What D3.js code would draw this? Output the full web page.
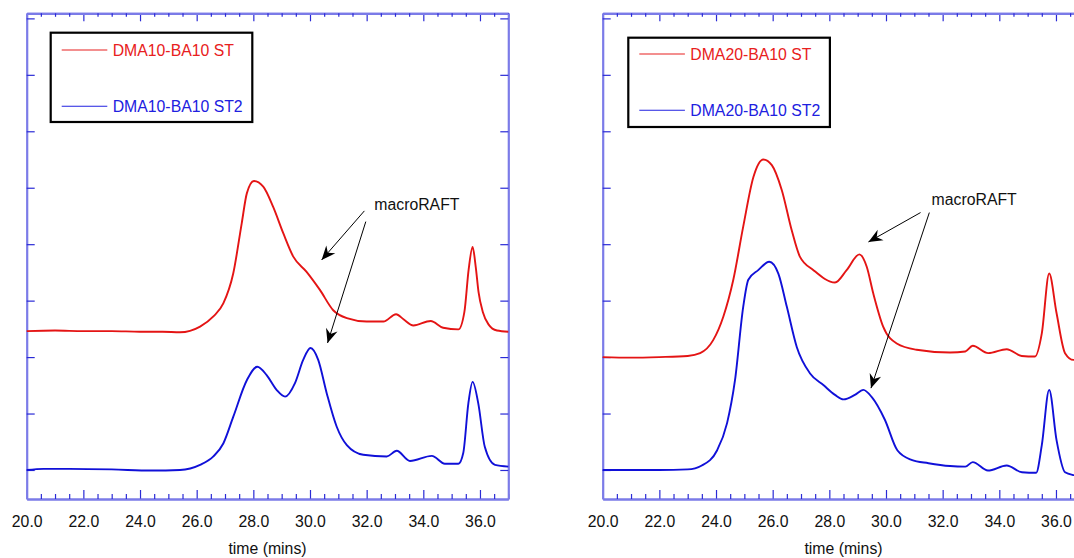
<!DOCTYPE html>
<html>
<head>
<meta charset="utf-8">
<script src="https://cdn.jsdelivr.net/npm/d3@7"></script>
<style>
  body { margin: 0; background: #fff; }
  svg { display: block; font-family: "Liberation Sans", Arial, sans-serif; }
</style>
</head>
<body>
<div id="chart"></div>
<script>
// time axis (mins)
const xTicks = [20, 22, 24, 26, 28, 30, 32, 34, 36];

// DMA10-BA10 panel
const t10st = [20.0, 21.0, 22.0, 23.0, 24.0, 24.8, 25.41, 26.12, 26.59, 26.94, 27.29, 27.59, 27.77, 28.02, 28.35, 28.7, 29.06, 29.41, 29.88, 30.35, 30.82, 31.3, 32.0, 32.59, 33.04, 33.3, 33.65, 34.26, 34.7, 35.24, 35.45, 35.6, 35.74, 35.85, 35.95, 36.1, 36.3, 36.6, 37.0];
const v10st = [2.46, 2.47, 2.46, 2.46, 2.45, 2.45, 2.44, 2.54, 2.72, 2.95, 3.48, 4.37, 4.90, 5.12, 5.02, 4.66, 4.19, 3.78, 3.51, 3.19, 2.83, 2.69, 2.63, 2.63, 2.76, 2.67, 2.56, 2.64, 2.52, 2.49, 2.80, 3.55, 3.95, 3.60, 3.15, 2.80, 2.58, 2.47, 2.45];
const t10st2 = [20.0, 20.6, 21.5, 23.0, 24.4, 25.41, 26.12, 26.59, 26.94, 27.29, 27.77, 28.14, 28.47, 28.82, 29.12, 29.47, 29.76, 30.02, 30.29, 30.59, 30.94, 31.3, 31.88, 32.71, 33.06, 33.53, 34.3, 34.76, 35.24, 35.41, 35.59, 35.74, 35.94, 36.17, 36.53, 37.0];
const v10st2 = [0.00, 0.02, 0.02, 0.01, -0.01, 0.00, 0.09, 0.24, 0.47, 0.94, 1.59, 1.83, 1.68, 1.42, 1.30, 1.54, 1.95, 2.16, 1.95, 1.36, 0.77, 0.44, 0.27, 0.24, 0.34, 0.16, 0.25, 0.11, 0.11, 0.30, 1.18, 1.56, 1.18, 0.41, 0.09, 0.06];

// DMA20-BA10 panel
const t20st = [20.0, 21.0, 22.0, 23.0, 23.44, 23.9, 24.26, 24.61, 24.96, 25.32, 25.67, 25.97, 26.32, 26.67, 26.96, 27.44, 28.2, 28.61, 29.06, 29.32, 29.55, 29.9, 30.38, 31.08, 32.26, 32.8, 33.06, 33.61, 34.26, 34.79, 35.26, 35.5, 35.76, 36.02, 36.32, 36.62, 37.0];
const v20st = [2.00, 1.99, 2.00, 2.02, 2.07, 2.30, 2.72, 3.37, 4.31, 5.19, 5.50, 5.40, 4.96, 4.25, 3.78, 3.54, 3.32, 3.54, 3.82, 3.60, 3.13, 2.54, 2.24, 2.13, 2.08, 2.10, 2.20, 2.07, 2.14, 2.02, 2.01, 2.42, 3.48, 2.78, 2.07, 1.95, 1.95];
const t20st2 = [20.0, 21.0, 22.0, 23.0, 23.5, 24.04, 24.39, 24.67, 24.96, 25.14, 25.49, 25.88, 26.2, 26.5, 26.85, 27.32, 27.8, 28.2, 28.5, 28.9, 29.2, 29.5, 29.96, 30.4, 30.9, 31.5, 32.26, 32.8, 33.06, 33.6, 34.26, 34.8, 35.3, 35.5, 35.76, 36.02, 36.32, 36.62, 37.0];
const v20st2 = [0.00, 0.00, 0.00, 0.01, 0.08, 0.35, 0.83, 1.59, 2.89, 3.37, 3.54, 3.69, 3.48, 2.89, 2.18, 1.71, 1.50, 1.33, 1.25, 1.33, 1.42, 1.29, 0.89, 0.35, 0.18, 0.12, 0.07, 0.06, 0.14, -0.01, 0.08, -0.04, -0.05, 0.44, 1.42, 0.53, -0.04, -0.09, -0.11];

const legendNames10 = ['DMA10-BA10 ST', 'DMA10-BA10 ST2'];
const legendNames20 = ['DMA20-BA10 ST', 'DMA20-BA10 ST2'];
const noteText = 'macroRAFT';
// annotation anchors in data units: text [t, v], arrows [t0, v0, t1, v1]
const note10 = [32.27, 4.60];
const arrows10 = [[31.92, 4.59, 30.41, 3.72], [31.97, 4.40, 30.62, 2.25]];
const note20 = [31.61, 4.69];
const arrows20 = [[31.22, 4.56, 29.38, 4.04], [31.53, 4.56, 29.47, 1.45]];

const W = 1074, H = 558;
const axisColor = '#7b7be8';
const tickColor = '#2a2ad6';
const redLine = '#e41414';
const blueLine = '#1010d8';
const fontSize = '15.8px';

const svg = d3.select('#chart').append('svg')
  .attr('width', W)
  .attr('height', H);

const defs = svg.append('defs');
defs.append('marker')
  .attr('id', 'arrow')
  .attr('viewBox', '-15 -7 16 14')
  .attr('refX', 0)
  .attr('refY', 0)
  .attr('markerWidth', 16)
  .attr('markerHeight', 14)
  .attr('markerUnits', 'userSpaceOnUse')
  .attr('orient', 'auto')
  .append('path')
  .attr('d', 'M0,0 L-14,-6 L-9.5,0 L-14,6 Z')
  .attr('fill', '#000');

const plotW = 481.6, plotTop = 13.3, plotBottom = 499;

function drawPanel(opt) {
  const g = svg.append('g').attr('transform', `translate(${opt.left},0)`);

  const x = d3.scaleLinear().domain([20, 37]).range([0, plotW]);
  const y = d3.scaleLinear().domain([-0.514, 8.09]).range([plotBottom, plotTop]);

  const minor = d3.range(20.5, 37.01, 0.5).filter(d => d % 2 !== 0);
  const yTicks = d3.range(0, 9);

  // bottom axis
  g.append('g')
    .attr('class', 'ax')
    .attr('transform', `translate(0,${plotBottom})`)
    .call(d3.axisBottom(x).tickValues(xTicks).tickSizeInner(-9).tickSizeOuter(0)
      .tickPadding(17).tickFormat(d3.format('.1f')));
  g.append('g')
    .attr('class', 'ax minor')
    .attr('transform', `translate(0,${plotBottom})`)
    .call(d3.axisBottom(x).tickValues(minor).tickSizeInner(-5).tickSizeOuter(0).tickFormat(''));

  // top axis
  g.append('g')
    .attr('class', 'ax')
    .attr('transform', `translate(0,${plotTop})`)
    .call(d3.axisTop(x).tickValues(xTicks).tickSizeInner(-8).tickSizeOuter(0).tickFormat(''));
  g.append('g')
    .attr('class', 'ax minor')
    .attr('transform', `translate(0,${plotTop})`)
    .call(d3.axisTop(x).tickValues(minor).tickSizeInner(-3.5).tickSizeOuter(0).tickFormat(''));

  // left & right axes
  g.append('g')
    .attr('class', 'ax')
    .call(d3.axisLeft(y).tickValues(yTicks).tickSizeInner(-8).tickSizeOuter(0).tickFormat(''));
  g.append('g')
    .attr('class', 'ax')
    .attr('transform', `translate(${plotW},0)`)
    .call(d3.axisRight(y).tickValues(yTicks).tickSizeInner(-8).tickSizeOuter(0).tickFormat(''));

  g.selectAll('.ax .domain')
    .attr('stroke', axisColor)
    .attr('stroke-width', 2.2);
  g.selectAll('.ax .tick line')
    .attr('stroke', tickColor)
    .attr('stroke-width', 1.2);
  g.selectAll('.ax text')
    .attr('fill', '#111')
    .attr('font-size', fontSize)
    .attr('font-family', '"Liberation Sans", Arial, sans-serif');

  // x title
  g.append('text')
    .attr('x', plotW / 2)
    .attr('y', 553.5)
    .attr('text-anchor', 'middle')
    .attr('font-size', fontSize)
    .attr('fill', '#111')
    .text('time (mins)');

  // curves
  const line = d3.line()
    .x(d => x(d[0]))
    .y(d => y(d[1]))
    .curve(d3.curveMonotoneX);

  opt.series.forEach(s => {
    g.append('path')
      .datum(d3.zip(s.t, s.v))
      .attr('fill', 'none')
      .attr('stroke', s.color)
      .attr('stroke-width', 1.9)
      .attr('stroke-linejoin', 'round')
      .attr('d', line);
  });

  // legend
  const lg = g.append('g').attr('transform', `translate(${opt.legend[0]},${opt.legend[1]})`);
  lg.append('rect')
    .attr('x', 0).attr('y', 0)
    .attr('width', 201.6).attr('height', 89.3)
    .attr('fill', 'none')
    .attr('stroke', '#000')
    .attr('stroke-width', 2.2);
  opt.names.forEach((n, i) => {
    const yy = opt.legendRow + i * 56.3;
    lg.append('line')
      .attr('x1', 11).attr('x2', 56.6)
      .attr('y1', yy).attr('y2', yy)
      .attr('stroke', i === 0 ? '#e82020' : '#2020e0')
      .attr('stroke-width', 1.1);
    lg.append('text')
      .attr('x', 62)
      .attr('y', yy + 5.8)
      .attr('font-size', fontSize)
      .attr('fill', i === 0 ? '#e82020' : '#2020e0')
      .text(n);
  });

  // annotation
  g.append('text')
    .attr('x', x(opt.note[0]))
    .attr('y', y(opt.note[1]))
    .attr('font-size', fontSize)
    .attr('fill', '#111')
    .text(noteText);
  opt.arrows.forEach(a => {
    g.append('line')
      .attr('x1', x(a[0])).attr('y1', y(a[1]))
      .attr('x2', x(a[2])).attr('y2', y(a[3]))
      .attr('stroke', '#000')
      .attr('stroke-width', 1)
      .attr('marker-end', 'url(#arrow)');
  });
}

drawPanel({
  left: 26.7,
  legend: [24, 32.7],
  legendRow: 17.3,
  names: legendNames10,
  note: note10,
  arrows: arrows10,
  series: [
    { t: t10st, v: v10st, color: redLine },
    { t: t10st2, v: v10st2, color: blueLine }
  ]
});

drawPanel({
  left: 602.7,
  legend: [25.6, 37.7],
  legendRow: 16.3,
  names: legendNames20,
  note: note20,
  arrows: arrows20,
  series: [
    { t: t20st, v: v20st, color: redLine },
    { t: t20st2, v: v20st2, color: blueLine }
  ]
});
</script>
</body>
</html>
